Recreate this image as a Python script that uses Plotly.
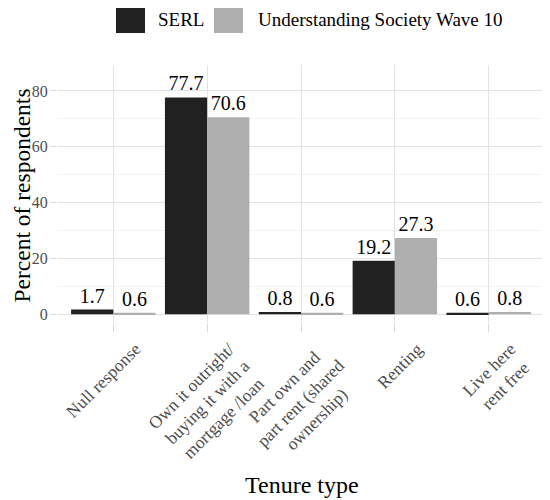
import plotly.graph_objects as go

categories = [
    "Null response",
    "Own it outright/<br>buying it with a<br>mortgage /loan",
    "Part own and<br>part rent (shared<br>ownership)",
    "Renting",
    "Live here<br>rent free",
]
serl = [1.7, 77.7, 0.8, 19.2, 0.6]
usoc = [0.6, 70.6, 0.6, 27.3, 0.8]
series_names = ["SERL", "Understanding Society Wave 10"]
colors = ["#212121", "#afafaf"]

FONT = "Liberation Serif, DejaVu Serif, serif"
TICK_SIZE = 17.5

# the page body has an 8px margin; the figure is sized so that it fills 550x500 on screen
OFF = 8
PL, PR, PT, PB = 57, 545, 65, 323   # panel edges in screen pixels
PW, PH = PR - PL, PB - PT


def px(x):
    return (x - PL) / PW


def py(y):
    return (PB - y) / PH


fig = go.Figure()
for name, vals, col in zip(series_names, [serl, usoc], colors):
    fig.add_trace(go.Bar(
        name=name, x=categories, y=vals, marker_color=col, marker_line_width=0,
        text=[f"{v:.1f}" for v in vals], textposition="outside",
        textfont=dict(family=FONT, size=20, color="black"),
        cliponaxis=False, showlegend=False,
    ))

fig.update_layout(
    width=550 - OFF, height=500 - OFF,
    margin=dict(l=PL - OFF, r=550 - PR, t=PT - OFF, b=500 - PB),
    paper_bgcolor="white", plot_bgcolor="white",
    barmode="group", bargap=0.1, bargroupgap=0,
    font=dict(family=FONT, color="#4d4d4d"),
    xaxis=dict(
        range=[-0.6, 4.6], showgrid=True, gridcolor="#e3e3e3", gridwidth=1,
        ticks="outside", ticklen=8, tickcolor="#d9d9d9",
        showticklabels=False,
        showline=False, zeroline=False, automargin=False,
    ),
    yaxis=dict(
        range=[-3.1, 89.3], dtick=20, tick0=0, showgrid=True, gridcolor="#e3e3e3",
        ticks="outside", ticklen=5, tickcolor="#d9d9d9",
        tickfont=dict(family=FONT, size=16, color="#4d4d4d"),
        minor=dict(dtick=10, showgrid=True, gridcolor="#f2f2f2"),
        showline=False, zeroline=False, automargin=False,
    ),
)

# rotated, centre-aligned category labels hanging from each tick
for cat in categories:
    nlines = cat.count("<br>") + 1
    h = (nlines - 1) * TICK_SIZE * 1.3 + TICK_SIZE * 1.107 + 4
    fig.add_annotation(
        text=cat, xref="x", yref="paper", x=cat, y=0,
        xanchor="right", yanchor="top", align="center", textangle=-45,
        xshift=18 + 0.707 * h, yshift=-(336 - PB),
        showarrow=False, font=dict(family=FONT, size=TICK_SIZE, color="#4d4d4d"),
    )

# legend drawn at the top
leg = [(116, 145, 156, series_names[0]), (214, 243, 256, series_names[1])]
for (x0, x1, tx, name), col in zip(leg, colors):
    fig.add_shape(type="rect", xref="paper", yref="paper",
                  x0=px(x0), x1=px(x1), y0=py(5), y1=py(33),
                  fillcolor=col, line_width=0)
    fig.add_annotation(text=name, xref="paper", yref="paper",
                       x=px(tx), y=py(20), xanchor="left", yanchor="middle",
                       showarrow=False, font=dict(family=FONT, size=19, color="black"))

fig.add_annotation(text="Tenure type", xref="paper", yref="paper",
                   x=px(301.5), y=py(485), xanchor="center", yanchor="middle",
                   showarrow=False, font=dict(family=FONT, size=24, color="black"))
fig.add_annotation(text="Percent of respondents", xref="paper", yref="paper",
                   x=px(OFF + 0.5), y=py(196), xanchor="left", yanchor="middle",
                   textangle=-90, borderpad=0, borderwidth=0,
                   showarrow=False, font=dict(family=FONT, size=23.5, color="black"))

fig.write_html("out.html")
